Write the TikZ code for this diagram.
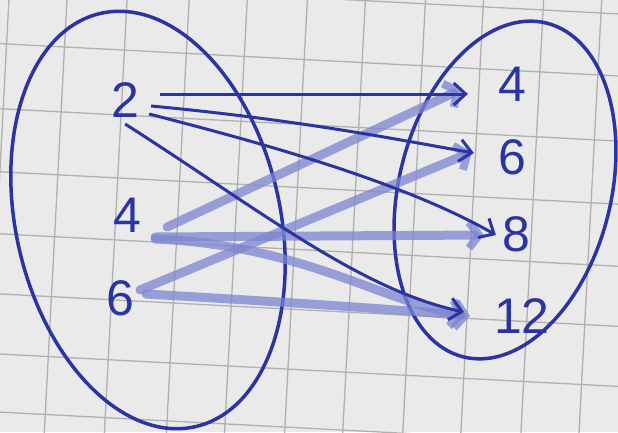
\documentclass[tikz,border=0pt]{standalone}
\usepackage{fontspec}
\setmainfont{Liberation Sans}
\usetikzlibrary{arrows.meta,calc}
\definecolor{ink}{HTML}{2B34A3}
\definecolor{fade}{HTML}{7C84D0}
\definecolor{paper}{HTML}{EAEAEA}
\definecolor{gridc}{HTML}{B0B0B0}
\tikzset{
  num/.style={font=\fontsize{50}{50}\selectfont, text=ink, inner sep=0pt},
  oval/.style={draw=ink, line width=3.5pt},
  darkarrow/.style={draw=ink, line width=3pt, -{Straight Barb[length=12pt,width=22pt,line width=3pt]}},
  lightarrow/.style={draw=fade, line width=9pt, opacity=0.75, line cap=round, -{Straight Barb[length=10pt,width=26pt,line width=8pt]}},
}
\begin{document}
\begin{tikzpicture}[x=1pt,y=-1pt]
\useasboundingbox (0,0) rectangle (618,432);
\fill[paper] (0,0) rectangle (618,432);
\begin{scope}[rotate around={-3:(309,216)}, line width=1.3pt]
  \foreach \x in {-2,56,116,178,236,296,354,414,472,532,590,648}
    \draw[gridc] (\x,-40) -- (\x,480);
  \foreach \y in {-2,60,125,188,250,310,370,428,488}
    \draw[gridc] (-40,\y) -- (660,\y);
\end{scope}
% ellipses
\draw[oval] (148,220) ellipse [x radius=132, y radius=212, rotate=13];
\draw[oval] (505,190) ellipse [x radius=106, y radius=172, rotate=-14];
% numbers
\node[num] (L2) at (125,100) {2};
\node[num] (L4) at (127,215) {4};
\node[num] (L6) at (120,298) {6};
\node[num] (R4) at (512,84) {4};
\node[num] (R6) at (512,157) {6};
\node[num] (R8) at (516,234) {8};
\node[num] (R12) at (522,316) {12};
% light arrows
\draw[lightarrow] ([shift={(26,12)}]L4.east) -- ([shift={(-36,5)}]R4.west);
\draw[lightarrow] ([shift={(14,22)}]L4.east) -- ([shift={(-18,1)}]R8.west);
\draw[lightarrow] ([shift={(14,24)}]L4.east) .. controls (300,245) and (380,300) .. ([shift={(-28,0)}]R12.west);
\draw[lightarrow] ([shift={(6,-8)}]L6.east) -- ([shift={(-26,-5)}]R6.west);
\draw[lightarrow] ([shift={(12,-4)}]L6.east) .. controls (250,300) and (380,308) .. ([shift={(-24,0)}]R12.west);
% dark arrows
\draw[darkarrow] ([shift={(21,-6)}]L2.east) -- ([shift={(-30,10)}]R4.west);
\draw[darkarrow] ([shift={(12,6)}]L2.east) .. controls (300,120) and (400,140) .. ([shift={(-24,-4)}]R6.west);
\draw[darkarrow] ([shift={(10,14)}]L2.east) .. controls (250,140) and (400,180) .. ([shift={(-6,1)}]R8.west);
\draw[darkarrow] ([shift={(-14,24)}]L2.east) .. controls (260,210) and (360,290) .. ([shift={(-30,-4)}]R12.west);
\end{tikzpicture}
\end{document}
